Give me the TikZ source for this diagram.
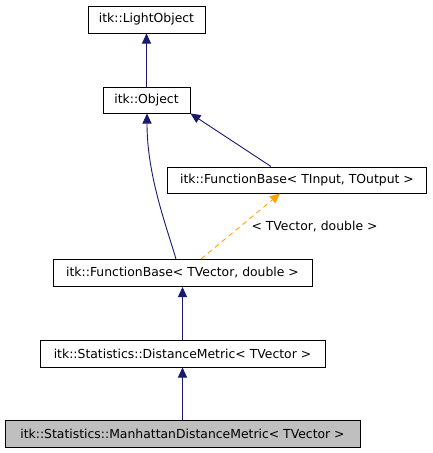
\documentclass[tikz,border=0pt]{standalone}
\usepackage{fontspec}
\setmainfont{DejaVu Sans}
\usetikzlibrary{arrows.meta}
\definecolor{edgeblue}{HTML}{191970}
\definecolor{edgeorange}{HTML}{FFA500}
\definecolor{hilite}{HTML}{BFBFBF}
\begin{document}
\begin{tikzpicture}[x=1pt,y=-1pt,
  cls/.style={draw=black,line width=1pt,inner sep=0pt,font=\fontsize{12.4}{14}\selectfont},
  inh/.style={draw=edgeblue,line width=0.9pt,-{Triangle[length=10pt,width=9pt]}},
  tmpl/.style={draw=edgeorange,line width=0.9pt,dashed,dash pattern=on 5pt off 4pt,-{Triangle[length=10pt,width=9pt,fill=edgeorange]}},
  lbl/.style={inner sep=0pt,font=\fontsize{12.4}{14}\selectfont}]
\useasboundingbox (0,0) rectangle (432,453);
\fill[white] (0,0) rectangle (432,453);
\node[cls,minimum width=117pt,minimum height=27pt] (lo) at (146.5,19.5) {itk::LightObject};
\node[cls,minimum width=87pt,minimum height=26pt] (obj) at (146.5,100) {itk::Object};
\node[cls,minimum width=259pt,minimum height=26pt] (fbio) at (297,180) {itk::FunctionBase< TInput, TOutput >};
\node[cls,minimum width=259pt,minimum height=27pt] (fbvd) at (182.5,273) {itk::FunctionBase< TVector, double >};
\node[cls,minimum width=285pt,minimum height=27pt] (dm) at (182.5,353.5) {itk::Statistics::DistanceMetric< TVector >};
\node[cls,fill=hilite,minimum width=355pt,minimum height=27pt] (man) at (182.5,433.5) {itk::Statistics::ManhattanDistanceMetric< TVector >};
\draw[inh] (obj.north) -- (lo.south);
\draw[inh] (fbio.north west) ++(104,0) coordinate (a1) (a1) -- (obj.south east);
\draw[inh] ([xshift=-6.5pt]fbvd.north) .. controls (166,225) and (147,175) .. ([xshift=0.5pt]obj.south);
\draw[tmpl] ([xshift=18.5pt]fbvd.north) -- ([xshift=-17pt]fbio.south);
\node[lbl] (tl) at (314.5,227) {< TVector, double >};
\draw[inh] (dm.north) -- (fbvd.south);
\draw[inh] (man.north) -- (dm.south);
\end{tikzpicture}
\end{document}
